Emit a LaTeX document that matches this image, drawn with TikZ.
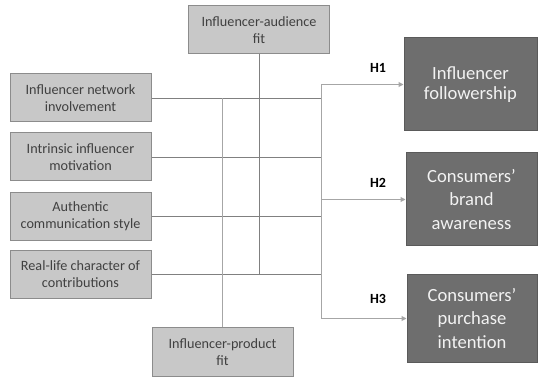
\documentclass[tikz,border=0pt]{standalone}
\usepackage{fontspec}
\setmainfont{Carlito}
\usetikzlibrary{arrows.meta}
\definecolor{lightfill}{HTML}{C8C8C8}
\definecolor{lightdraw}{HTML}{8C8C8C}
\definecolor{darkfill}{HTML}{6E6E6E}
\definecolor{darkdraw}{HTML}{5A5A5A}
\definecolor{txtgray}{HTML}{404040}
\definecolor{linegray}{HTML}{808080}
\definecolor{linelight}{HTML}{A6A6A6}
\tikzset{
  lbox/.style={draw=lightdraw, fill=lightfill, line width=1pt, minimum width=141pt, minimum height=48pt, inner sep=0pt, align=center, text=txtgray, font=\fontsize{14.2}{17}\selectfont},
  dbox/.style={draw=darkdraw, fill=darkfill, line width=1pt, inner sep=0pt, align=center, text=white!95!black, font=\fontsize{18.6}{23.5}\selectfont},
  conn/.style={draw=linegray, line width=0.9pt},
  connl/.style={draw=linelight, line width=1pt},
  arr/.style={draw=linelight, line width=1pt, -{Triangle[length=5pt,width=5pt]}},
  hlab/.style={font=\fontsize{14}{16}\bfseries\selectfont, text=black}
}
\begin{document}
\begin{tikzpicture}[x=1pt,y=-1pt]
\useasboundingbox (0,0) rectangle (539,377);
\node[lbox] (aud) at (259,30) {Influencer-audience\\fit};
\node[lbox] (prod) at (222.5,352) {Influencer-product\\fit};
\node[lbox] (L1) at (80.5,98) {Influencer network\\involvement};
\node[lbox] (L2) at (80.5,157) {Intrinsic influencer\\motivation};
\node[lbox] (L3) at (80.5,216.5) {Authentic\\communication style};
\node[lbox] (L4) at (80.5,274.5) {Real-life character of\\contributions};
\node[dbox, minimum width=133pt, minimum height=93pt, font=\fontsize{18.6}{20.5}\selectfont] (D1) at (470.5,84.5) {Influencer\\followership};
\node[dbox, minimum width=131pt, minimum height=93pt] (D2) at (471.5,199.5) {Consumers’\\brand\\awareness};
\node[dbox, minimum width=130pt, minimum height=87pt] (D3) at (472,318.5) {Consumers’\\purchase\\intention};
\coordinate (bus) at (321,0);
\node[hlab] (h1) at (378,68) {H1};
\node[hlab] (h2) at (378,183) {H2};
\node[hlab] (h3) at (378,299) {H3};
% horizontal lines
\foreach \n in {L1,L2,L3,L4} \draw[conn] (\n.east) -- (bus |- \n.east);
% verticals
\draw[conn] (aud.south) -- (aud.south |- L4.east);
\draw[connl] (prod.north) -- (prod.north |- L1.east);
\draw[connl] (bus |- D1.west) -- (bus |- D3.west);
% arrows
\foreach \n in {D1,D2,D3} \draw[arr] (bus |- \n.west) -- (\n.west);
\end{tikzpicture}
\end{document}
